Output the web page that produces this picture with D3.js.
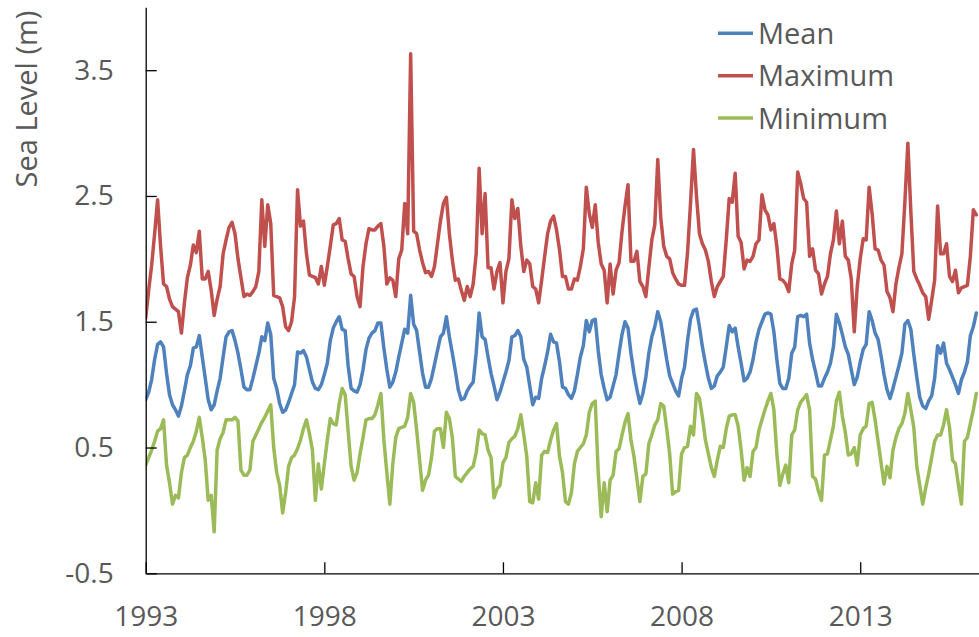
<!DOCTYPE html>
<html>
<head>
<meta charset="utf-8">
<script src="https://cdn.jsdelivr.net/npm/d3@7"></script>
<style>
  body { margin: 0; background: #fff; }
  svg { display: block; font-family: "Open Sans", "Noto Sans", sans-serif; }
</style>
</head>
<body>
<svg id="chart"></svg>
<script>
// monthly values starting January 1993
var startYear = 1993;
var yearTicks = [1993, 1998, 2003, 2008, 2013];
var levelTicks = [-0.5, 0.5, 1.5, 2.5, 3.5];
var seriesNames = ["Mean", "Maximum", "Minimum"];

var mean = [
  0.88, 0.94, 1.04, 1.2, 1.32, 1.34, 1.3, 1.09, 0.92, 0.84, 0.8, 0.75,
  0.83, 0.95, 1.08, 1.15, 1.29, 1.3, 1.39, 1.22, 1.05, 0.88, 0.8, 0.84,
  0.95, 1.05, 1.22, 1.38, 1.42, 1.43, 1.35, 1.25, 1.12, 0.98, 0.96, 0.96,
  1.05, 1.15, 1.25, 1.38, 1.35, 1.49, 1.4, 1.05, 0.97, 0.85, 0.78, 0.8,
  0.86, 0.93, 1.0, 1.26, 1.25, 1.27, 1.22, 1.12, 1.02, 0.97, 0.96, 1.0,
  1.08, 1.17, 1.35, 1.45, 1.5, 1.54, 1.44, 1.43, 1.15, 0.97, 0.95, 0.94,
  1.0, 1.12, 1.28, 1.37, 1.41, 1.43, 1.49, 1.49, 1.29, 1.12, 0.98, 1.02,
  1.1, 1.22, 1.33, 1.44, 1.41, 1.71, 1.48, 1.43, 1.26, 1.09, 0.98, 0.98,
  1.05, 1.16, 1.27, 1.38, 1.41, 1.54, 1.38, 1.25, 1.11, 0.96, 0.88, 0.89,
  0.95, 0.99, 1.02, 1.25, 1.57, 1.38, 1.36, 1.22, 1.09, 0.99, 0.88, 0.94,
  1.02, 1.1, 1.19, 1.38, 1.39, 1.43, 1.38, 1.2, 1.14, 0.99, 0.84, 0.9,
  0.89, 1.05, 1.15, 1.26, 1.4, 1.34, 1.33, 1.18, 0.98, 0.97, 0.92, 0.89,
  0.95, 1.08, 1.22, 1.31, 1.51, 1.42, 1.51, 1.52, 1.27, 1.08, 0.97, 0.88,
  0.9, 0.99, 1.08, 1.25, 1.4, 1.5, 1.45, 1.25, 1.09, 0.96, 0.85, 0.93,
  1.06, 1.25, 1.38, 1.46, 1.58, 1.5, 1.35, 1.2, 1.07, 1.01, 0.95, 0.91,
  1.05, 1.14, 1.35, 1.52, 1.59, 1.6, 1.46, 1.3, 1.17, 1.05, 0.97, 0.99,
  1.07, 1.1, 1.14, 1.3, 1.47, 1.42, 1.45, 1.3, 1.17, 1.03, 1.05, 1.1,
  1.2, 1.34, 1.44, 1.5, 1.56, 1.57, 1.56, 1.42, 1.2, 1.01, 0.97, 0.97,
  1.05, 1.25, 1.3, 1.54, 1.55, 1.54, 1.56, 1.33, 1.2, 1.1, 0.99, 0.99,
  1.05, 1.1, 1.17, 1.3, 1.56, 1.49, 1.4, 1.3, 1.24, 1.12, 1.0, 1.06,
  1.18, 1.28, 1.32, 1.58, 1.51, 1.41, 1.36, 1.23, 1.08, 0.96, 0.89, 0.97,
  1.06, 1.15, 1.25, 1.48, 1.51, 1.44, 1.24, 1.06, 0.9, 0.83, 0.81, 0.87,
  0.91, 1.05, 1.31, 1.25, 1.33, 1.17, 1.12, 1.06, 1.0, 0.93, 1.04, 1.1,
  1.18, 1.39, 1.46, 1.57
];

var maximum = [
  1.53, 1.75, 1.95, 2.2, 2.47, 2.1, 1.8, 1.78, 1.68, 1.62, 1.6, 1.58,
  1.41, 1.65, 1.85, 1.95, 2.11, 2.05, 2.22, 1.84, 1.84, 1.9, 1.75, 1.55,
  1.68, 1.78, 2.04, 2.15, 2.25, 2.29, 2.2, 2.0, 1.85, 1.7, 1.72, 1.71,
  1.74, 1.78, 1.9, 2.47, 2.1, 2.43, 2.28, 1.71, 1.7, 1.69, 1.62, 1.46,
  1.43, 1.5, 1.7, 2.55, 2.26, 2.3, 2.04, 1.87, 1.86, 1.85, 1.8, 1.94,
  1.79, 1.94, 2.1, 2.27, 2.28, 2.32, 2.15, 2.14, 2.0, 1.88, 1.86, 1.7,
  1.62, 1.94, 2.12, 2.24, 2.23, 2.23, 2.26, 2.28, 2.1, 1.8, 1.85, 1.83,
  1.7, 2.0, 2.07, 2.44, 2.2, 3.63, 2.22, 2.2, 2.07, 1.97, 1.89, 1.9,
  1.86, 1.94, 2.12, 2.3, 2.44, 2.49, 2.2, 1.99, 1.83, 1.84, 1.75, 1.67,
  1.78, 1.7, 1.8, 2.04, 2.72, 2.2, 2.52, 1.93, 1.93, 1.76, 1.9, 1.97,
  1.65, 1.9, 2.0, 2.47, 2.32, 2.4, 2.1, 1.9, 1.99, 1.96, 1.78, 1.76,
  1.65, 1.83, 2.02, 2.2, 2.3, 2.34, 2.23, 2.07, 1.86, 1.86, 1.76, 1.76,
  1.84, 1.83, 1.94, 2.08, 2.57, 2.36, 2.25, 2.43, 2.13, 1.96, 1.91, 1.65,
  1.96, 1.72, 1.91, 1.97, 2.22, 2.42, 2.59, 1.98, 1.98, 2.06, 1.82, 1.78,
  1.7, 1.93, 2.15, 2.27, 2.79, 2.33, 2.1, 2.02, 2.0, 1.89, 1.84, 1.8,
  1.79, 1.79, 2.05, 2.44, 2.87, 2.5, 2.2, 2.12, 2.07, 1.98, 1.82, 1.7,
  1.78, 1.82, 1.86, 2.15, 2.48, 2.45, 2.68, 2.18, 2.13, 1.92, 1.99, 1.98,
  2.02, 2.12, 2.15, 2.51, 2.39, 2.35, 2.23, 2.28, 2.1, 1.84, 1.83, 1.8,
  1.74, 1.96, 2.07, 2.69, 2.6, 2.48, 2.45, 2.02, 2.08, 1.91, 1.88, 1.72,
  1.8, 1.86, 2.04, 2.15, 2.38, 2.12, 2.3, 2.02, 1.99, 1.84, 1.42, 1.78,
  2.0, 2.16, 2.15, 2.57, 2.36, 2.08, 2.07, 1.99, 1.95, 1.74, 1.69, 1.58,
  1.8, 1.93, 2.04, 2.45, 2.92, 2.38, 1.9, 1.84, 1.79, 1.73, 1.7, 1.52,
  1.67, 1.83, 2.42, 2.04, 2.04, 2.12, 1.86, 1.82, 1.91, 1.73, 1.77, 1.78,
  1.79, 2.02, 2.39, 2.35
];

var minimum = [
  0.36, 0.42, 0.48, 0.55, 0.63, 0.65, 0.72, 0.36, 0.22, 0.05, 0.12, 0.1,
  0.3, 0.42, 0.44, 0.5, 0.55, 0.63, 0.74, 0.58, 0.4, 0.08, 0.12, -0.17,
  0.48, 0.57, 0.62, 0.72, 0.72, 0.72, 0.74, 0.71, 0.32, 0.28, 0.28, 0.32,
  0.55, 0.6, 0.65, 0.7, 0.74, 0.79, 0.84, 0.5, 0.3, 0.2, -0.02, 0.14,
  0.35, 0.42, 0.44, 0.49, 0.56, 0.65, 0.72, 0.61, 0.48, 0.08, 0.37, 0.17,
  0.37, 0.56, 0.73, 0.69, 0.68, 0.85, 0.97, 0.92, 0.63, 0.35, 0.24, 0.3,
  0.45, 0.58, 0.72, 0.73, 0.73, 0.76, 0.84, 0.93, 0.56, 0.3, 0.05, 0.37,
  0.58, 0.65, 0.66, 0.67, 0.74, 0.93, 0.86, 0.64, 0.4, 0.16, 0.24, 0.28,
  0.42, 0.63, 0.65, 0.65, 0.5, 0.78, 0.73, 0.58, 0.27, 0.25, 0.23, 0.27,
  0.3, 0.33, 0.35, 0.46, 0.64, 0.61, 0.6, 0.48, 0.42, 0.1, 0.17, 0.2,
  0.38, 0.42, 0.54, 0.57, 0.59, 0.65, 0.76, 0.6, 0.43, 0.07, 0.06, 0.22,
  0.09, 0.44, 0.47, 0.46, 0.56, 0.64, 0.69, 0.43, 0.3, 0.07, 0.05, 0.14,
  0.37, 0.47, 0.5, 0.53, 0.6, 0.78, 0.85, 0.87, 0.3, -0.05, 0.22, -0.01,
  0.24, 0.28, 0.47, 0.49, 0.6, 0.7, 0.77, 0.56, 0.43, 0.25, 0.07, 0.27,
  0.29, 0.53, 0.6, 0.68, 0.72, 0.85, 0.83, 0.65, 0.45, 0.13, 0.15, 0.16,
  0.45, 0.5, 0.51, 0.67, 0.6, 0.93, 0.89, 0.74, 0.56, 0.45, 0.34, 0.27,
  0.4, 0.51, 0.5, 0.65, 0.75, 0.76, 0.76, 0.67, 0.48, 0.24, 0.34, 0.27,
  0.47, 0.5, 0.64, 0.72, 0.8, 0.87, 0.93, 0.8, 0.45, 0.2, 0.29, 0.36,
  0.22, 0.6, 0.64, 0.8, 0.86, 0.89, 0.92, 0.8, 0.27, 0.25, 0.15, 0.08,
  0.44, 0.45, 0.56, 0.67, 0.87, 0.94, 0.75, 0.62, 0.44, 0.45, 0.5, 0.36,
  0.6, 0.65, 0.67, 0.85, 0.86, 0.72, 0.55, 0.38, 0.21, 0.35, 0.26, 0.48,
  0.58, 0.65, 0.69, 0.77, 0.93, 0.8, 0.66, 0.35, 0.2, 0.05, 0.18, 0.29,
  0.42, 0.55, 0.6, 0.6, 0.68, 0.8, 0.66, 0.4, 0.37, 0.2, 0.05, 0.55,
  0.58, 0.69, 0.8, 0.93
];

var colors = ["#4f81bd", "#c0504d", "#9bbb59"];
var textColor = "#595959";

var svgWidth = 979, svgHeight = 637;
var svg = d3.select("#chart")
  .attr("width", svgWidth)
  .attr("height", svgHeight);

// plot box, the right side runs off the picture
var plotLeft = 145.7, plotRight = 979, plotTop = 7.3, plotBottom = 573.3;

var x = d3.scaleLinear()
  .domain([startYear, startYear + 279.9 / 12])
  .range([plotLeft, plotRight]);
var y = d3.scaleLinear()
  .domain([-0.5, 4])
  .range([plotBottom, plotTop]);

var series = [mean, maximum, minimum].map(function(values, k) {
  return {
    name: seriesNames[k],
    color: colors[k],
    points: values.map(function(v, i) { return { t: startYear + i / 12, v: v }; })
  };
});

var line = d3.line()
  .x(function(d) { return x(d.t); })
  .y(function(d) { return y(d.v); });

svg.append("defs").append("clipPath")
  .attr("id", "plot-clip")
  .append("rect")
  .attr("x", plotLeft).attr("y", 0)
  .attr("width", plotRight - plotLeft).attr("height", plotBottom);

svg.append("g")
  .attr("clip-path", "url(#plot-clip)")
  .selectAll("path")
  .data(series)
  .enter().append("path")
  .attr("fill", "none")
  .attr("stroke", function(d) { return d.color; })
  .attr("stroke-width", 3.5)
  .attr("stroke-linejoin", "round")
  .attr("stroke-linecap", "round")
  .attr("d", function(d) { return line(d.points); });

var xAxis = svg.append("g")
  .attr("transform", "translate(0," + plotBottom + ")")
  .call(d3.axisBottom(x)
    .tickValues(yearTicks)
    .tickFormat(d3.format("d"))
    .tickSizeInner(-11)
    .tickSizeOuter(0)
    .tickPadding(33));

var yAxis = svg.append("g")
  .attr("transform", "translate(" + plotLeft + ",0)")
  .call(d3.axisLeft(y)
    .tickValues(levelTicks)
    .tickFormat(function(d) { return d.toFixed(1); })
    .tickSizeInner(-11)
    .tickSizeOuter(0)
    .tickPadding(32));

[xAxis, yAxis].forEach(function(g) {
  g.select(".domain").attr("stroke", "#000").attr("stroke-width", 1.3);
  g.selectAll(".tick line").attr("stroke", "#000").attr("stroke-width", 1.3);
  g.selectAll(".tick text")
    .attr("fill", textColor)
    .style("font-size", "28px")
    .style("font-family", "'Open Sans', 'Noto Sans', sans-serif");
});

svg.append("text")
  .attr("transform", "translate(37,99) rotate(-90)")
  .attr("text-anchor", "middle")
  .attr("fill", textColor)
  .style("font-size", "29px")
  .text("Sea Level (m)");

// legend
var legend = svg.append("g")
  .selectAll("g")
  .data(series)
  .enter().append("g")
  .attr("transform", function(d, i) { return "translate(718," + (33.3 + i * 42.4) + ")"; });

legend.append("line")
  .attr("x1", 0).attr("x2", 35)
  .attr("stroke", function(d) { return d.color; })
  .attr("stroke-width", 3.5);

legend.append("text")
  .attr("x", 40)
  .attr("dy", "0.36em")
  .attr("fill", textColor)
  .style("font-size", "29px")
  .text(function(d) { return d.name; });
</script>
</body>
</html>
